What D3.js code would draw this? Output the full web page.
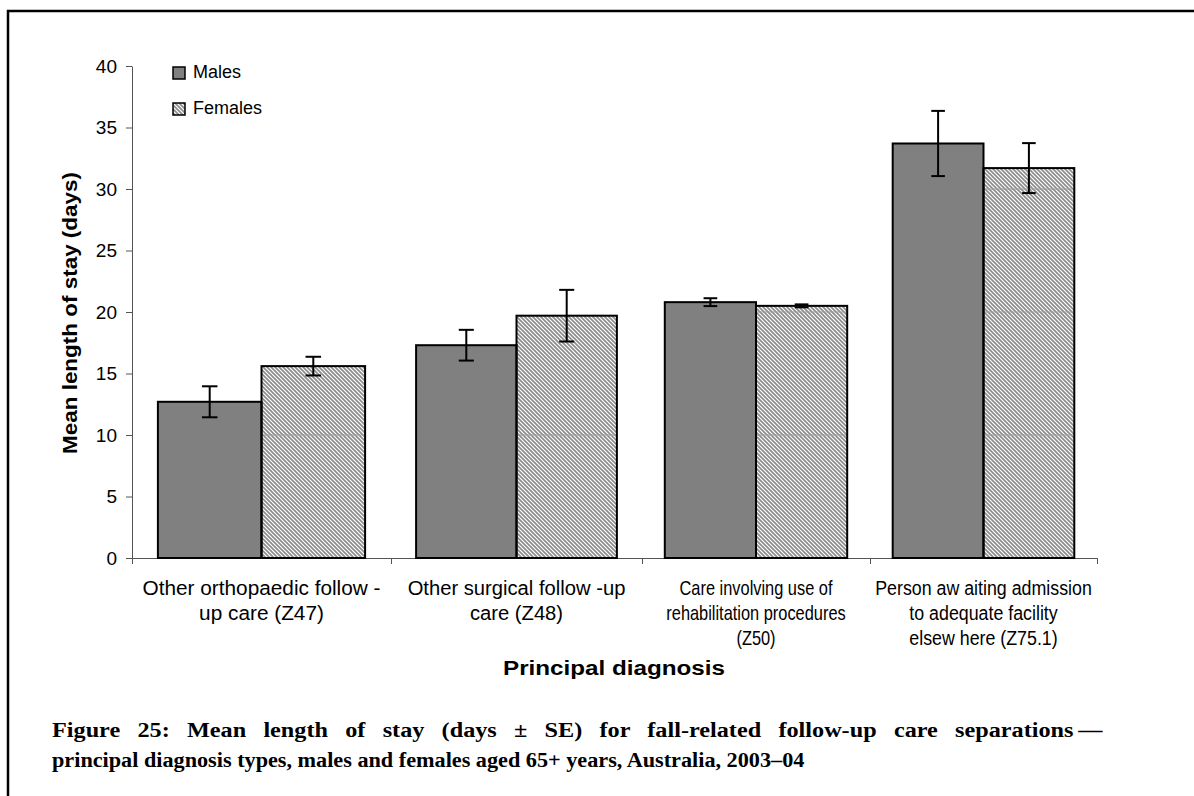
<!DOCTYPE html>
<html><head><meta charset="utf-8">
<script src="https://cdn.jsdelivr.net/npm/d3@7"></script>
<style>body{margin:0;background:#fff}svg{display:block}</style>
</head><body>
<svg id="c" width="1194" height="796"></svg>
<script>
const categories = ["Z47", "Z48", "Z50", "Z75.1"];
const categoryLabels = [
  ["Other orthopaedic follow -", "up care (Z47)"],
  ["Other surgical follow -up", "care (Z48)"],
  ["Care involving use of", "rehabilitation procedures", "(Z50)"],
  ["Person aw aiting admission", "to adequate facility", "elsew here (Z75.1)"]
];
const seriesNames = ["Males", "Females"];
const malesMean = [12.7, 17.3, 20.8, 33.7];
const malesSE = [1.26, 1.25, 0.32, 2.65];
const femalesMean = [15.6, 19.7, 20.5, 31.7];
const femalesSE = [0.76, 2.1, 0.12, 2.03];
const yTicks = [0, 5, 10, 15, 20, 25, 30, 35, 40];
const xTitle = "Principal diagnosis";
const yTitle = "Mean length of stay (days)";
const captionLines = [
  "Figure 25: Mean length of stay (days \u00b1 SE) for fall-related follow-up care separations\u2009\u2014",
  "principal diagnosis types, males and females aged 65+ years, Australia, 2003\u201304"
];

const svg = d3.select("#c");
const sans = "Liberation Sans, Arial, sans-serif";
const defs = svg.append("defs");
const pat = defs.append("pattern").attr("id", "hatch")
  .attr("patternUnits", "userSpaceOnUse").attr("width", 4).attr("height", 4);
pat.append("rect").attr("width", 4).attr("height", 4).attr("fill", "#fff");
pat.append("path").attr("d", "M-1,-1L5,5M-1,3L1,5M3,-1L5,1")
  .attr("stroke", "#8a8a8a").attr("stroke-width", 1.6);

// frame
svg.append("path").attr("d", "M8,796V11H1194").attr("fill", "none")
  .attr("stroke", "#000").attr("stroke-width", 2.5);

const x = d3.scaleLinear().domain([0, 1, 2, 3, 4]).range([132, 391, 642, 870, 1097]);
const y = d3.scaleLinear().domain([0, 40]).range([558, 66]);

// y axis
const ya = svg.append("g").attr("transform", "translate(132,0)")
  .call(d3.axisLeft(y).tickValues(yTicks).tickSize(6).tickPadding(9).tickSizeOuter(0));
ya.select(".domain").attr("stroke", "#555");
ya.selectAll(".tick line").attr("stroke", "#555");
ya.selectAll("text").attr("font-family", sans).attr("font-size", 19).attr("fill", "#000");

// x axis
const xa = svg.append("g").attr("transform", "translate(0,558)")
  .call(d3.axisBottom(x).tickValues([0, 1, 2, 3, 4]).tickFormat("").tickSize(6).tickSizeOuter(0));
xa.select(".domain").attr("stroke", "#555");
xa.selectAll(".tick line").attr("stroke", "#555");

const groups = categories.map((c, i) => ({
  i, m: malesMean[i], mse: malesSE[i], f: femalesMean[i], fse: femalesSE[i]
}));

// bars
svg.append("g").selectAll("rect").data(groups).join("rect")
  .attr("x", d => x(d.i + 0.1)).attr("width", d => x(d.i + 0.5) - x(d.i + 0.1))
  .attr("y", d => y(d.m)).attr("height", d => y(0) - y(d.m))
  .attr("fill", "#808080");
svg.append("g").selectAll("rect").data(groups).join("rect")
  .attr("x", d => x(d.i + 0.5)).attr("width", d => x(d.i + 0.9) - x(d.i + 0.5))
  .attr("y", d => y(d.f)).attr("height", d => y(0) - y(d.f))
  .attr("fill", "url(#hatch)");
// faint lines seen through hatched bars
const gl = svg.append("g");
groups.forEach(d => {
  [10, 20, 30].filter(t => t < d.f - 0.3).forEach(t => {
    gl.append("line").attr("x1", x(d.i + 0.5)).attr("x2", x(d.i + 0.9))
      .attr("y1", y(t)).attr("y2", y(t)).attr("stroke", "#9a9a9a").attr("stroke-width", 1);
  });
});
// outlines
svg.append("g").selectAll("rect").data(groups).join("rect")
  .attr("x", d => x(d.i + 0.1)).attr("width", d => x(d.i + 0.5) - x(d.i + 0.1))
  .attr("y", d => y(d.m)).attr("height", d => y(0) - y(d.m))
  .attr("fill", "none").attr("stroke", "#000").attr("stroke-width", 2);
svg.append("g").selectAll("rect").data(groups).join("rect")
  .attr("x", d => x(d.i + 0.5)).attr("width", d => x(d.i + 0.9) - x(d.i + 0.5))
  .attr("y", d => y(d.f)).attr("height", d => y(0) - y(d.f))
  .attr("fill", "none").attr("stroke", "#000").attr("stroke-width", 2);

// error bars
const eb = svg.append("g").attr("stroke", "#000").attr("stroke-width", 2);
groups.forEach(d => {
  [[d.i + 0.3, d.m, d.mse], [d.i + 0.7, d.f, d.fse]].forEach(([p, v, se]) => {
    const cx = x(p), hw = x(p + 0.03) - x(p);
    eb.append("line").attr("x1", cx).attr("x2", cx).attr("y1", y(v + se)).attr("y2", y(v - se));
    eb.append("line").attr("x1", cx - hw).attr("x2", cx + hw).attr("y1", y(v + se)).attr("y2", y(v + se));
    eb.append("line").attr("x1", cx - hw).attr("x2", cx + hw).attr("y1", y(v - se)).attr("y2", y(v - se));
  });
});

// category labels (reference text is horizontally stretched differently per group)
const labelStretch = [1.04, 1.01, 0.82, 0.89];
const cl = svg.append("g").attr("font-family", sans).attr("font-size", 20).attr("text-anchor", "middle");
categoryLabels.forEach((lines, i) => {
  const t = cl.append("text")
    .attr("transform", `translate(${x(i + 0.5)},0) scale(${labelStretch[i]},1)`);
  lines.forEach((s, k) => t.append("tspan").attr("x", 0).attr("y", 595 + k * 25).text(s));
});

// axis titles
svg.append("text").attr("x", 614).attr("y", 675).attr("text-anchor", "middle")
  .attr("font-family", sans).attr("font-weight", "bold").attr("font-size", 20)
  .attr("textLength", 222).attr("lengthAdjust", "spacingAndGlyphs").text(xTitle);
svg.append("text").attr("transform", "translate(77,313) rotate(-90)").attr("text-anchor", "middle")
  .attr("font-family", sans).attr("font-weight", "bold").attr("font-size", 20)
  .attr("textLength", 282).attr("lengthAdjust", "spacingAndGlyphs").text(yTitle);

// legend
const lg = svg.append("g");
seriesNames.forEach((n, k) => {
  lg.append("rect").attr("x", 173).attr("y", 67 + k * 36).attr("width", 12).attr("height", 12)
    .attr("fill", k === 0 ? "#808080" : "url(#hatch)").attr("stroke", "#000").attr("stroke-width", 1.5);
  lg.append("text").attr("x", 193).attr("y", 78 + k * 36).attr("font-family", sans)
    .attr("font-size", 18).text(n);
});

// caption: line 2 natural width, line 1 justified to the full measure
const serif = "Palatino Linotype, Book Antiqua, Liberation Serif, serif";
const g2 = svg.append("g").attr("font-family", serif).attr("font-weight", "bold").attr("font-size", 20);
const c2 = g2.append("text").attr("x", 0).attr("y", 767).text(captionLines[1]);
const w2 = c2.node().getComputedTextLength();
const k = Math.max(0.9, Math.min(1.15, 753 / w2));
g2.attr("transform", `translate(52,0) scale(${k},1)`);

const g1 = svg.append("g").attr("font-family", serif).attr("font-weight", "bold").attr("font-size", 20);
const c1 = g1.append("text").attr("x", 0).attr("y", 737).text(captionLines[0]);
const w1 = c1.node().getComputedTextLength();
const k1 = Math.min(k * 1.09, 1051 / w1);
g1.attr("transform", `translate(52,0) scale(${k1},1)`);
const target1 = 1051 / k1;
const nSpaces = (captionLines[0].match(/ /g) || []).length;
if (target1 - w1 > 1) {
  c1.style("word-spacing", ((target1 - w1) / nSpaces) + "px");
  if (Math.abs(c1.node().getComputedTextLength() - target1) > 4) {
    c1.style("word-spacing", null).attr("textLength", target1).attr("lengthAdjust", "spacing");
  }
}
</script>
</body></html>
